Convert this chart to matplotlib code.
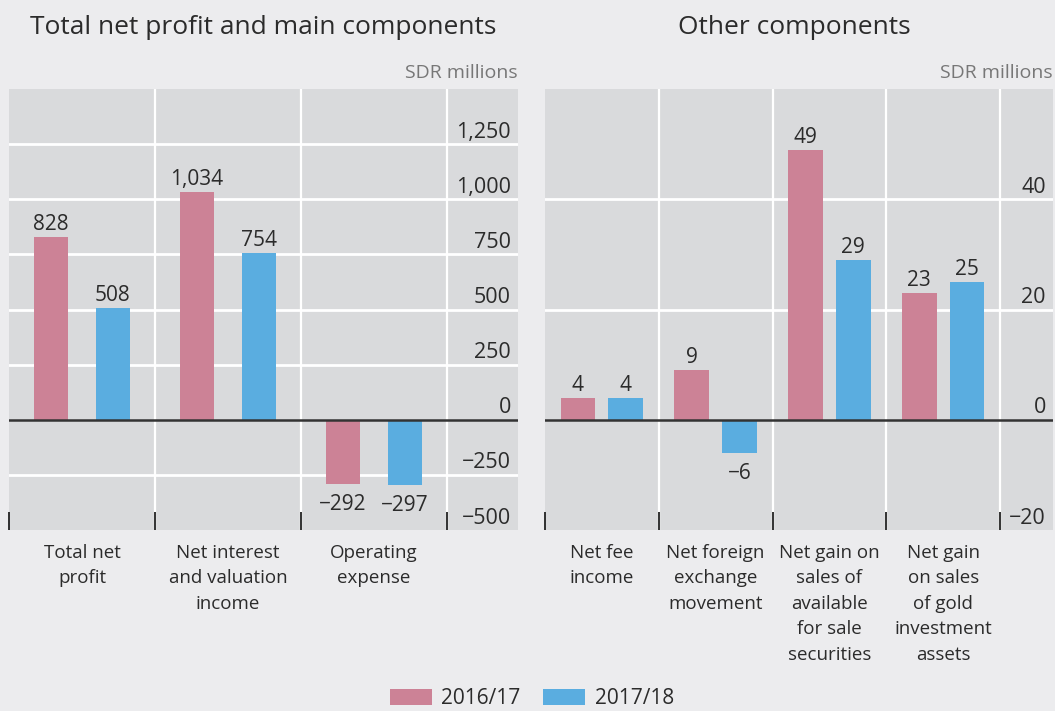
import matplotlib
matplotlib.use("Agg")
import matplotlib.pyplot as plt
import matplotlib.transforms as mtransforms
from matplotlib.patches import Patch

plt.rcParams['font.family'] = ['Open Sans', 'DejaVu Sans']

# ---- data ----
left_title = "Total net profit and main components"
left_cats = ["Total net\nprofit", "Net interest\nand valuation\nincome", "Operating\nexpense"]
left_2016 = [828, 1034, -292]
left_2017 = [508, 754, -297]
left_ticks = [-500, -250, 0, 250, 500, 750, 1000, 1250]

right_title = "Other components"
right_cats = ["Net fee\nincome", "Net foreign\nexchange\nmovement", "Net gain on\nsales of\navailable\nfor sale\nsecurities",
              "Net gain\non sales\nof gold\ninvestment\nassets"]
right_2016 = [4, 9, 49, 23]
right_2017 = [4, -6, 29, 25]
right_ticks = [-20, 0, 20, 40]

series_names = ["2016/17", "2017/18"]
unit = "SDR millions"

PINK = "#cc8296"
BLUE = "#5aade0"
FIG_BG = "#ececee"
AX_BG = "#d9dadc"
TXT = "#2b2b2b"

W, H = 1055, 711
fig = plt.figure(figsize=(W / 100, H / 100), dpi=100, facecolor=FIG_BG)


def px_axes(x0, x1, y0, y1):
    return fig.add_axes([x0 / W, 1 - y1 / H, (x1 - x0) / W, (y1 - y0) / H])


def fmt(v):
    s = f"{v:,}"
    return s.replace("-", "\u2212")


def draw_panel(ax, cats, s1, s2, ticks, ylim, xright, offset, width, title):
    n = len(cats)
    ax.set_facecolor(AX_BG)
    for sp in ax.spines.values():
        sp.set_visible(False)
    ax.set_xlim(-0.5, xright)
    ax.set_ylim(*ylim)
    # grid
    for t in ticks:
        if t == 0 or t == ylim[0]:
            continue
        ax.axhline(t, color="white", lw=2, zorder=1)
    for b in range(n):
        ax.axvline(b + 0.5, color="white", lw=1.6, zorder=1)
    xs = list(range(n))
    for sign, vals, col in ((-1, s1, PINK), (1, s2, BLUE)):
        pos = [x + sign * offset for x in xs]
        ax.bar(pos, vals, width=width, color=col, zorder=2)
        for p, v in zip(pos, vals):
            if v >= 0:
                ax.annotate(fmt(v), (p, v), xytext=(0, 1.5), textcoords="offset points",
                            ha="center", va="bottom", fontsize=15, color=TXT)
            else:
                ax.annotate(fmt(v), (p, v), xytext=(0, -7), textcoords="offset points",
                            ha="center", va="top", fontsize=15, color=TXT)
    ax.axhline(0, color="#333333", lw=1.8, zorder=3)
    # ticks
    ax.set_yticks([])
    ax.set_xticks([b - 0.5 for b in range(n + 1)])
    ax.set_xticklabels([])
    ax.tick_params(axis="x", direction="in", length=13, width=1.3, color="#222222")
    trans = mtransforms.blended_transform_factory(ax.transAxes, ax.transData)
    off = mtransforms.ScaledTranslation(-7 / 100, 1.5 / 100, fig.dpi_scale_trans)
    for t in ticks:
        ax.text(1, t, fmt(t), transform=trans + off, ha="right", va="bottom",
                fontsize=15.5, color=TXT)
    # category labels
    toff = mtransforms.ScaledTranslation(0, -14 / 100, fig.dpi_scale_trans)
    tr2 = mtransforms.blended_transform_factory(ax.transData, ax.transAxes)
    for x, c in zip(xs, cats):
        ax.text(x, 0, c, transform=tr2 + toff, ha="center", va="top",
                fontsize=13.5, color=TXT, linespacing=1.53)
    ax.text(1, 1, unit, transform=ax.transAxes + mtransforms.ScaledTranslation(0, 7 / 100, fig.dpi_scale_trans),
            ha="right", va="bottom", fontsize=14, color="#777777")


axL = px_axes(9, 518, 89, 530)
draw_panel(axL, left_cats, left_2016, left_2017, left_ticks, (-500, 1500),
           2.5 + 71 / 146, 0.212, 0.233, left_title)
axR = px_axes(545, 1053, 89, 530)
draw_panel(axR, right_cats, right_2016, right_2017, right_ticks, (-20, 60),
           3.5 + 53 / 114, 0.21, 0.305, right_title)

fig.text(263 / W, 1 - 27 / H, left_title, ha="center", va="center", fontsize=19, color=TXT)
fig.text(794 / W, 1 - 27 / H, right_title, ha="center", va="center", fontsize=19, color=TXT)

handles = [Patch(facecolor=PINK, edgecolor="none"), Patch(facecolor=BLUE, edgecolor="none")]
fig.legend(handles, series_names, loc="lower center", bbox_to_anchor=(532 / W, -13 / H), ncol=2,
           frameon=False, fontsize=15, handlelength=2.0, handleheight=0.8,
           handletextpad=0.45, columnspacing=1.1, labelcolor=TXT, borderpad=0.2)

fig.savefig("out.png", dpi=100, facecolor=FIG_BG)
